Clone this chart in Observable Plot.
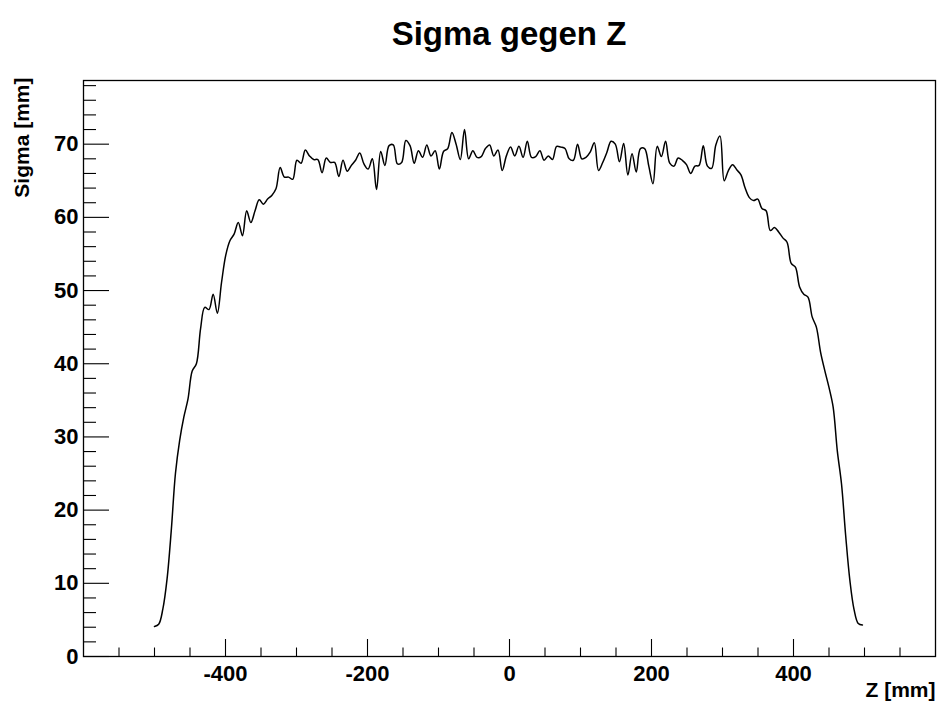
<!DOCTYPE html>
<html>
<head>
<meta charset="utf-8">
<script src="https://cdn.jsdelivr.net/npm/d3@7"></script>
<script src="https://cdn.jsdelivr.net/npm/@observablehq/plot@0.6"></script>
<style>
html, body { margin: 0; padding: 0; background: #fff; }
#wrap { width: 940px; height: 704px; overflow: hidden; font-family: "Liberation Sans", Arial, Helvetica, sans-serif; }
#title { box-sizing: border-box; height: 55px; margin-left: 83px; width: 852px; text-align: center; font-weight: bold; font-size: 33px; line-height: 33px; padding-top: 17px; color: #000; }
svg { display: block; }
</style>
</head>
<body>
<div id="wrap">
  <div id="title">Sigma gegen Z</div>
  <div id="chart"></div>
</div>
<script>
// Histogram bins along Z [mm]: first bin centre and bin width
const zStart = -500;
const zStep = 5.9;

// Sigma [mm] per bin
const sigma = [
  4.1, 4.4, 6.5, 10.6, 17.2, 25.0, 29.5, 32.7, 35.2, 39.0,
  40.0, 44.8, 47.7, 47.4, 49.5, 46.9, 51.1, 54.8, 56.8, 57.7,
  59.3, 57.5, 60.9, 59.3, 60.9, 62.4, 61.8, 62.5, 63.0, 63.9,
  66.8, 65.5, 65.5, 65.2, 67.8, 67.4, 69.2, 68.4, 67.9, 67.9,
  66.1, 68.1, 67.5, 67.5, 65.6, 67.8, 66.3, 67.1, 67.8, 68.8,
  67.3, 66.6, 68.0, 63.8, 69.0, 67.1, 69.8, 69.9, 67.3, 67.5,
  70.5, 69.8, 67.4, 69.1, 68.2, 69.9, 68.4, 69.1, 66.6, 69.0,
  69.4, 71.6, 70.0, 67.9, 72.0, 68.0, 69.1, 68.2, 68.3, 69.4,
  69.9, 68.4, 69.2, 66.4, 68.4, 69.6, 68.4, 69.7, 68.2, 70.4,
  68.2, 68.3, 69.1, 67.8, 68.4, 67.9, 69.7, 69.6, 69.4, 68.0,
  67.8, 70.0, 68.0, 68.2, 68.9, 70.2, 66.4, 67.5, 68.9, 70.4,
  70.0, 67.6, 70.1, 65.8, 68.7, 66.2, 69.4, 69.4, 67.0, 64.6,
  69.7, 68.3, 70.4, 67.4, 67.0, 68.1, 67.8, 67.2, 66.0, 67.0,
  67.1, 69.8, 67.0, 66.7, 69.9, 71.1, 65.0, 66.4, 67.2, 66.5,
  65.8, 64.0, 62.7, 62.3, 62.5, 61.2, 60.9, 58.2, 58.6, 58.0,
  57.2, 56.6, 53.7, 53.2, 50.5, 49.5, 49.1, 46.4, 45.0, 41.6,
  39.1, 36.8, 34.1, 28.1, 23.6, 16.5, 10.4, 6.4, 4.5, 4.3
];

// Axis ticks
const xDomain = [-600, 600];
const yDomain = [0, 78.7];
const xMajor = [-400, -200, 0, 200, 400];
const xMinor = [-550, -500, -450, -350, -300, -250, -150, -100, -50, 50, 100, 150, 250, 300, 350, 450, 500, 550];
const yMajor = [0, 10, 20, 30, 40, 50, 60, 70];
const yMinor = [2, 4, 6, 8, 12, 14, 16, 18, 22, 24, 26, 28, 32, 34, 36, 38, 42, 44, 46, 48, 52, 54, 56, 58, 62, 64, 66, 68, 72, 74, 76, 78];

const title = "Sigma gegen Z";
const xLabel = "Z [mm]";
const yLabel = "Sigma [mm]";

const data = sigma.map((s, i) => ({ z: zStart + i * zStep, s }));

const W = 940, H = 649, mL = 83, mR = 5, mT = 25, mB = 48;
const frameW = W - mL - mR, frameH = H - mT - mB;

const chart = Plot.plot({
  width: W,
  height: H,
  marginLeft: mL,
  marginRight: mR,
  marginTop: mT,
  marginBottom: mB,
  style: { fontFamily: '"Liberation Sans", Arial, Helvetica, sans-serif', background: "#fff", color: "#000", overflow: "visible" },
  x: { domain: xDomain },
  y: { domain: yDomain },
  marks: [
    Plot.ruleY(yMinor, { y: d => d, insetRight: frameW - 13, stroke: "#000", strokeWidth: 1.1 }),
    Plot.ruleY(yMajor, { y: d => d, insetRight: frameW - 26, stroke: "#000", strokeWidth: 1.1 }),
    Plot.ruleX(xMinor, { x: d => d, insetTop: frameH - 8.5, stroke: "#000", strokeWidth: 1.1 }),
    Plot.ruleX(xMajor, { x: d => d, insetTop: frameH - 17, stroke: "#000", strokeWidth: 1.1 }),
    Plot.line(data, { x: "z", y: "s", stroke: "#000", strokeWidth: 1.5, curve: "catmull-rom" }),
    Plot.frame({ stroke: "#000", strokeWidth: 1.3 }),
    Plot.axisX(xMajor, { tickSize: 0, tickPadding: 9, fontSize: 22, fontWeight: "bold", label: null, tickFormat: d => String(d) }),
    Plot.axisY(yMajor, { tickSize: 0, tickPadding: 5, fontSize: 22, fontWeight: "bold", label: null, tickFormat: d => String(d) }),
    Plot.text([yLabel], { text: d => d, frameAnchor: "top-left", rotate: -90, textAnchor: "end", lineAnchor: "top", dx: -69.5, dy: -3, fontSize: 21, fontWeight: "bold" }),
    Plot.text([xLabel], { text: d => d, frameAnchor: "bottom-right", textAnchor: "end", lineAnchor: "top", dy: 26, fontSize: 21, fontWeight: "bold" })
  ]
});

document.getElementById("title").textContent = title;
document.getElementById("chart").appendChild(chart);
</script>
</body>
</html>
